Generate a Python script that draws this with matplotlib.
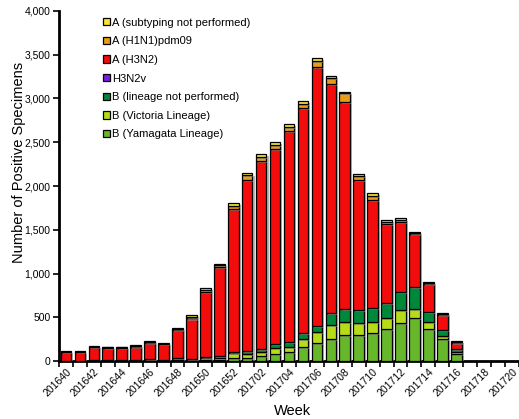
import matplotlib
matplotlib.use("Agg")
import matplotlib.pyplot as plt
import matplotlib.patheffects as pe
from matplotlib.patches import Patch
from matplotlib.ticker import FuncFormatter, FixedLocator
import numpy as np

plt.rcParams['font.family'] = ['Liberation Sans', 'DejaVu Sans']

weeks = ['201640', '201641', '201642', '201643', '201644', '201645', '201646', '201647',
         '201648', '201649', '201650', '201651', '201652',
         '201701', '201702', '201703', '201704', '201705', '201706', '201707', '201708',
         '201709', '201710', '201711', '201712', '201713', '201714', '201715', '201716',
         '201717', '201718', '201719', '201720']

b_yamagata = [2, 2, 3, 2, 3, 3, 5, 4, 8, 6, 10, 15, 35, 38, 53, 84, 99, 164, 202, 255, 301,
              293, 316, 362, 434, 488, 370, 248, 76, 0, 0, 0, 0]
b_victoria = [0, 1, 1, 2, 1, 2, 3, 3, 5, 8, 20, 25, 53, 46, 46, 61, 65, 91, 126, 152, 149,
              137, 126, 126, 152, 107, 80, 38, 23, 0, 0, 0, 0]
b_lineage_np = [3, 2, 4, 4, 5, 5, 10, 6, 20, 12, 15, 20, 20, 30, 42, 46, 50, 61, 76, 137, 141,
                156, 168, 179, 202, 248, 114, 65, 42, 0, 0, 0, 0]
h3n2v = [0] * 33
a_h3n2 = [95, 95, 150, 142, 141, 155, 190, 180, 320, 460, 740, 1010, 1626, 1960, 2148, 2232,
          2419, 2575, 2959, 2622, 2374, 1482, 1231, 896, 796, 605, 315, 175, 61, 0, 0, 0, 0]
a_h1n1 = [3, 4, 5, 5, 6, 6, 7, 7, 15, 18, 25, 30, 38, 50, 46, 46, 46, 46, 69, 72, 95, 46, 46,
          25, 30, 20, 15, 10, 10, 0, 0, 0, 0]
a_subtyping_np = [7, 6, 8, 9, 8, 8, 10, 10, 13, 18, 20, 12, 34, 19, 27, 30, 30, 38, 27, 23, 11,
                  23, 30, 20, 15, 10, 12, 9, 13, 0, 0, 0, 0]

series = [
    ('B (Yamagata Lineage)', b_yamagata, '#66B82A'),
    ('B (Victoria Lineage)', b_victoria, '#B6DC18'),
    ('B (lineage not performed)', b_lineage_np, '#00883A'),
    ('H3N2v', h3n2v, '#7A1FE6'),
    ('A (H3N2)', a_h3n2, '#F20C0C'),
    ('A (H1N1)pdm09', a_h1n1, '#E99B16'),
    ('A (subtyping not performed)', a_subtyping_np, '#F7E431'),
]

W, H = 519, 419
fig = plt.figure(figsize=(W / 100, H / 100), dpi=100)
ax = fig.add_axes([59 / W, (H - 361) / H, (519 - 59) / W, (361 - 11) / H])

x = np.arange(len(weeks))
bottom = np.zeros(len(weeks))
shadow = [pe.SimplePatchShadow(offset=(1.5, -1.5), shadow_rgbFace='#888888', alpha=0.6), pe.Normal()]
for name, vals, col in series:
    v = np.array(vals, dtype=float)
    mask = v > 0
    bars = ax.bar(x[mask], v[mask], bottom=bottom[mask], width=0.76, color=col,
                  edgecolor='black', linewidth=0.9, zorder=3)
    for b in bars:
        b.set_path_effects(shadow)
    bottom += v

ax.set_xlim(-0.5, len(weeks) - 0.5)
ax.set_ylim(0, 4000)
ax.set_yticks(np.arange(0, 4001, 500))
ax.yaxis.set_major_formatter(FuncFormatter(lambda v, p: f'{int(v):,}'))
ax.tick_params(axis='y', labelsize=7.5, length=4, width=1.2, direction='out', pad=2)

ax.set_xticks(x[::2])
ax.set_xticklabels(weeks[::2], rotation=45, ha='right', rotation_mode='anchor', fontsize=7.5)
ax.tick_params(axis='x', which='major', length=0, pad=4)
ax.xaxis.set_minor_locator(FixedLocator(np.arange(-0.5, len(weeks), 1.0)))
ax.tick_params(axis='x', which='minor', length=4, width=1.2, direction='out')

for s in ['top', 'right']:
    ax.spines[s].set_visible(False)
ax.spines['left'].set_linewidth(2)
ax.spines['bottom'].set_linewidth(2)

fig.text(293 / W, (H - 411) / H, 'Week', ha='center', va='center', fontsize=10.5)
fig.text(19 / W, (H - 162) / H, 'Number of Positive Specimens', rotation=90,
         ha='center', va='center', fontsize=10.5)

handles = [Patch(facecolor=c, edgecolor='black', linewidth=0.9, label=n) for n, _, c in reversed(series)]
ax.legend(handles=handles, loc='upper left', bbox_to_anchor=(103 / W, (H - 17.5) / H),
          bbox_transform=fig.transFigure, frameon=False, fontsize=8,
          handlelength=0.65, handleheight=0.65, handletextpad=0.2, labelspacing=0.78,
          borderpad=0, borderaxespad=0)

fig.savefig('out.png', dpi=100)
